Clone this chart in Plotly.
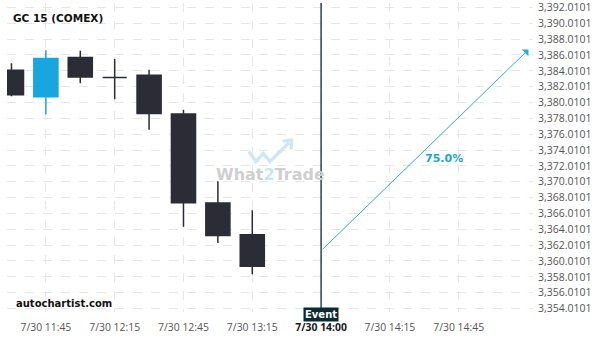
import plotly.graph_objects as go

# ---- data ----
candle_x = [0, 1, 2, 3, 4, 5, 6, 7]
opens  = [3384.07, 3380.74, 3385.70, 3383.16, 3383.45, 3378.57, 3367.32, 3363.32]
highs  = [3384.95, 3386.61, 3386.53, 3385.49, 3384.16, 3379.11, 3370.07, 3366.41]
lows   = [3380.80, 3378.50, 3382.45, 3380.41, 3376.57, 3364.32, 3362.28, 3358.32]
closes = [3381.00, 3385.57, 3383.24, 3383.16, 3378.61, 3367.36, 3363.24, 3359.36]

x_tickvals = [1, 3, 5, 7, 9, 11, 13]
x_ticktext = ["7/30 11:45", "7/30 12:15", "7/30 12:45", "7/30 13:15",
              "7/30 14:00", "7/30 14:15", "7/30 14:45"]
event_x = 9
y_tickvals = [3354.0101 + 2 * k for k in range(20)]
y_ticktext = [f"{v:,.4f}" for v in y_tickvals]

arrow_start = (9, 3361.3)
arrow_end = (15.03, 3386.7)
prob_label = "75.0%"
title = "GC 15 (COMEX)"

BLUE = "#18a6e0"
DARK = "#2b2c35"
EVT = "#0b2a31"

fig = go.Figure()
fig.add_trace(go.Candlestick(
    x=candle_x, open=opens, high=highs, low=lows, close=closes,
    increasing=dict(line=dict(color=BLUE, width=1.5), fillcolor=BLUE),
    decreasing=dict(line=dict(color=DARK, width=1.5), fillcolor=DARK),
    hoverinfo="skip", showlegend=False,
))

ticktext_fmt = [f"<span style='color:#1a1a1a'><b>{t}</b></span>" if v == event_x else t
                for v, t in zip(x_tickvals, x_ticktext)]

fig.update_layout(
    width=600, height=340,
    margin=dict(l=7, r=67, t=0, b=28),
    paper_bgcolor="white", plot_bgcolor="white",
    font=dict(family="Open Sans", size=10.4, color="#555555"),
    showlegend=False,
    boxgap=0.3, boxgroupgap=0,
    xaxis=dict(
        range=[-0.13, 15.16], rangeslider=dict(visible=False),
        tickmode="array", tickvals=x_tickvals, ticktext=ticktext_fmt,
        showgrid=True, gridcolor="#e6e6e6", griddash="dash", gridwidth=1,
        zeroline=False, showline=False, ticks="", ticklabelstandoff=8,
        tickfont=dict(family="Open Sans", size=10.4, color="#555555"),
    ),
    yaxis=dict(
        range=[3353.57, 3392.57], side="right",
        tickmode="array", tickvals=y_tickvals, ticktext=y_ticktext,
        showgrid=True, gridcolor="#e6e6e6", griddash="dash", gridwidth=1,
        zeroline=False, showline=False, ticks="", ticklabelstandoff=4,
        ticklabeloverflow="allow",
        tickfont=dict(family="Open Sans", size=10.5, color="#555555"),
    ),
)

# event vertical line
fig.add_shape(type="line", x0=event_x, x1=event_x, y0=0, y1=1, xref="x", yref="paper",
              line=dict(color=EVT, width=1.3))

# watermark
fig.add_annotation(x=0.50, y=0.445, xref="paper", yref="paper",
                   text="<b>What<span style='color:#c6e6f6'>2</span>Trade</b>",
                   showarrow=False, font=dict(family="DejaVu Sans", size=16, color="#cfcfcf"))
fig.add_shape(type="path", xref="paper", yref="paper",
              path="M 0.460 0.519 L 0.473 0.487 L 0.487 0.513 L 0.500 0.487 L 0.536 0.548",
              line=dict(color="#cce8f7", width=3.5))
fig.add_shape(type="path", xref="paper", yref="paper",
              path="M 0.524 0.553 L 0.541 0.556 L 0.540 0.526",
              line=dict(color="#cce8f7", width=3.5))

# forecast arrow
fig.add_annotation(x=arrow_end[0], y=arrow_end[1], ax=arrow_start[0], ay=arrow_start[1],
                   xref="x", yref="y", axref="x", ayref="y", text="",
                   showarrow=True, arrowhead=1, arrowsize=1.6, arrowwidth=1,
                   arrowcolor="#2aaae2")
fig.add_annotation(x=12.57, y=3372.95, xref="x", yref="y", text=f"<b>{prob_label}</b>",
                   showarrow=False, font=dict(family="DejaVu Sans", size=11, color="#1ba3dd"))

# title and footer
fig.add_annotation(x=11 / 526 - 7 / 526, y=1 - 15 / 312, xref="paper", yref="paper",
                   yanchor="middle", xanchor="left", text=f"<b>{title}</b>", showarrow=False,
                   font=dict(family="DejaVu Sans", size=10.5, color="#111111"))
fig.add_annotation(x=0.014, y=12 / 312 - 0.012, xref="paper", yref="paper", yanchor="middle",
                   xanchor="left", text="<b>autochartist.com</b>", showarrow=False,
                   font=dict(family="DejaVu Sans", size=10, color="#111111"))

# event label box
fig.add_annotation(x=event_x, y=0, xref="x", yref="paper", yanchor="middle", yshift=-2,
                   text="<b>Event</b>", showarrow=False, bgcolor=EVT, borderpad=1,
                   font=dict(family="DejaVu Sans", size=10, color="white"))

fig.write_html("out.html")
